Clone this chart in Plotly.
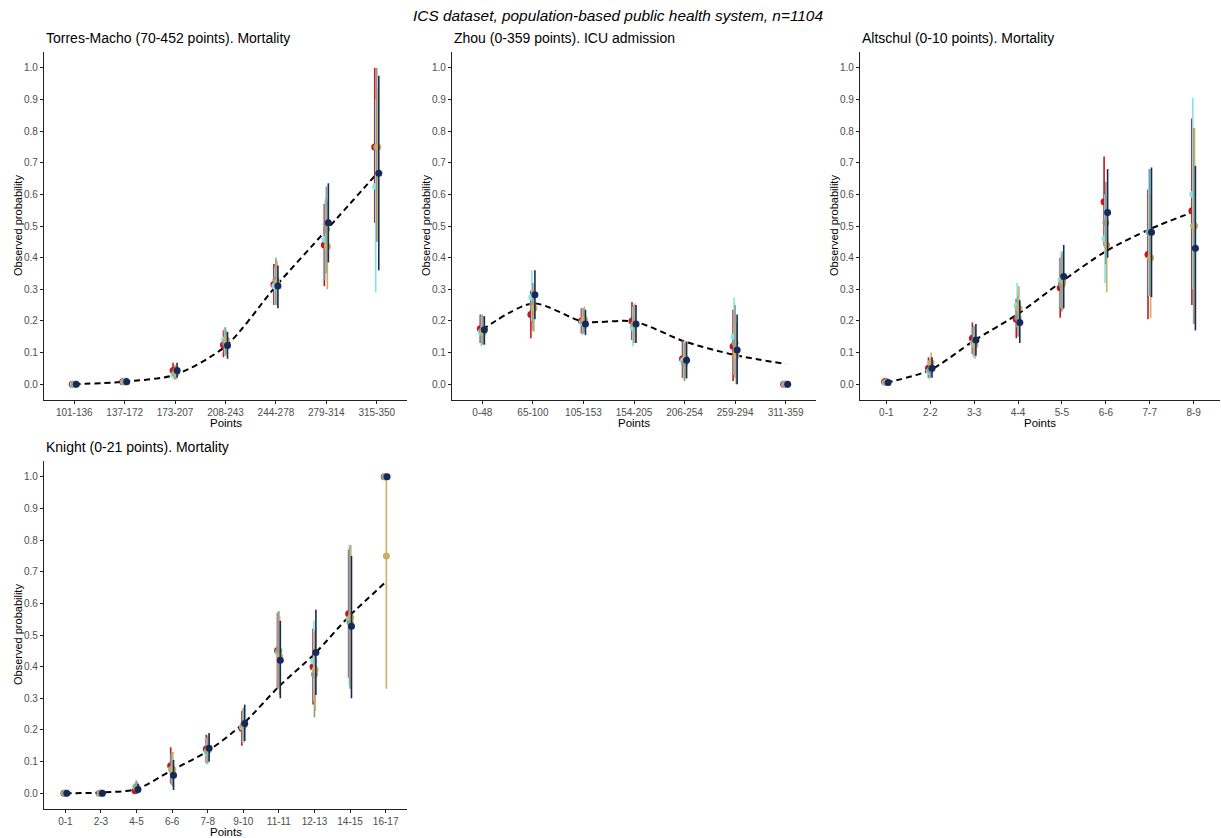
import plotly.graph_objects as go

W, H = 1221, 838

# ---------------- data ----------------
series_names = ["Series 1", "Series 2", "Series 3", "Series 4", "Series 5"]
series_colors = ["#C4171E", "#7FE3EE", "#889C92", "#C9AE63", "#142A5A"]

# Panel 1: Torres-Macho
cats1 = ["101-136", "137-172", "173-207", "208-243", "244-278", "279-314", "315-350"]
line1 = [0.0, 0.008, 0.03, 0.12, 0.31, 0.487, 0.665]
est1 = [
    [0.0, 0.008, 0.043, 0.125, 0.315, 0.44, 0.75],
    [0.0, 0.008, 0.03, 0.14, 0.31, 0.457, 0.625],
    [0.0, 0.008, 0.035, 0.13, 0.33, 0.49, 0.75],
    [0.0, 0.008, 0.035, 0.14, 0.32, 0.435, 0.75],
    [0.0, 0.008, 0.043, 0.122, 0.31, 0.51, 0.667],
]
lo1 = [
    [0, 0.0, 0.02, 0.085, 0.25, 0.31, 0.51],
    [0, 0.0, 0.015, 0.10, 0.25, 0.33, 0.29],
    [0, 0.0, 0.015, 0.09, 0.25, 0.35, 0.45],
    [0, 0.0, 0.015, 0.095, 0.25, 0.30, 0.45],
    [0, 0.0, 0.02, 0.08, 0.24, 0.385, 0.36],
]
hi1 = [
    [0, 0.02, 0.068, 0.17, 0.38, 0.57, 1.0],
    [0, 0.02, 0.05, 0.18, 0.37, 0.585, 0.90],
    [0, 0.02, 0.06, 0.18, 0.40, 0.625, 1.0],
    [0, 0.02, 0.06, 0.17, 0.39, 0.58, 0.935],
    [0, 0.02, 0.068, 0.165, 0.375, 0.635, 0.975],
]

# Panel 2: Zhou
cats2 = ["0-48", "65-100", "105-153", "154-205", "206-254", "259-294", "311-359"]
line2 = [0.172, 0.255, 0.198, 0.198, 0.135, 0.092, 0.064]
est2 = [
    [0.175, 0.22, 0.20, 0.20, 0.08, 0.12, 0.0],
    [0.165, 0.275, 0.195, 0.18, 0.075, 0.15, 0.0],
    [0.17, 0.25, 0.20, 0.19, 0.065, 0.13, 0.0],
    [0.165, 0.24, 0.205, 0.19, 0.08, 0.09, 0.0],
    [0.172, 0.283, 0.19, 0.19, 0.076, 0.108, 0.0],
]
lo2 = [
    [0.13, 0.145, 0.16, 0.14, 0.02, 0.01, 0],
    [0.12, 0.20, 0.155, 0.12, 0.015, 0.03, 0],
    [0.125, 0.17, 0.16, 0.13, 0.01, 0.02, 0],
    [0.125, 0.165, 0.165, 0.13, 0.02, 0.0, 0],
    [0.125, 0.205, 0.155, 0.13, 0.018, 0.0, 0],
]
hi2 = [
    [0.22, 0.295, 0.24, 0.26, 0.14, 0.235, 0],
    [0.215, 0.36, 0.24, 0.245, 0.135, 0.275, 0],
    [0.22, 0.32, 0.24, 0.25, 0.13, 0.25, 0],
    [0.215, 0.31, 0.245, 0.255, 0.135, 0.195, 0],
    [0.215, 0.36, 0.235, 0.25, 0.135, 0.22, 0],
]

# Panel 3: Altschul
cats3 = ["0-1", "2-2", "3-3", "4-4", "5-5", "6-6", "7-7", "8-9"]
line3 = [0.005, 0.045, 0.138, 0.222, 0.325, 0.42, 0.49, 0.545]
est3 = [
    [0.008, 0.05, 0.145, 0.205, 0.305, 0.577, 0.41, 0.548],
    [0.005, 0.04, 0.13, 0.248, 0.33, 0.46, 0.48, 0.60],
    [0.006, 0.045, 0.135, 0.21, 0.315, 0.51, 0.48, 0.50],
    [0.007, 0.068, 0.125, 0.24, 0.325, 0.44, 0.40, 0.50],
    [0.005, 0.05, 0.14, 0.195, 0.34, 0.543, 0.48, 0.43],
]
lo3 = [
    [0, 0.02, 0.095, 0.145, 0.21, 0.44, 0.205, 0.25],
    [0, 0.015, 0.085, 0.18, 0.24, 0.32, 0.28, 0.30],
    [0, 0.02, 0.09, 0.15, 0.23, 0.38, 0.28, 0.19],
    [0, 0.04, 0.08, 0.17, 0.235, 0.29, 0.21, 0.19],
    [0, 0.02, 0.09, 0.13, 0.24, 0.40, 0.275, 0.17],
]
hi3 = [
    [0.02, 0.085, 0.195, 0.27, 0.40, 0.72, 0.615, 0.84],
    [0.015, 0.075, 0.18, 0.32, 0.42, 0.60, 0.68, 0.905],
    [0.02, 0.08, 0.185, 0.28, 0.41, 0.64, 0.68, 0.81],
    [0.02, 0.10, 0.17, 0.31, 0.42, 0.59, 0.60, 0.81],
    [0.015, 0.085, 0.19, 0.265, 0.44, 0.68, 0.685, 0.69],
]

# Panel 4: Knight
cats4 = ["0-1", "2-3", "4-5", "6-6", "7-8", "9-10", "11-11", "12-13", "14-15", "16-17"]
line4 = [0.0, 0.002, 0.013, 0.073, 0.133, 0.22, 0.337, 0.44, 0.562, 0.667]
est4 = [
    [0, 0, 0.008, 0.087, 0.14, 0.205, 0.45, 0.40, 0.567, 1.0],
    [0, 0, 0.02, 0.075, 0.13, 0.21, 0.445, 0.418, 0.55, 1.0],
    [0, 0, 0.02, 0.075, 0.135, 0.215, 0.45, 0.376, 0.54, 1.0],
    [0, 0, 0.015, 0.075, 0.14, 0.215, 0.433, 0.39, 0.555, 0.75],
    [0, 0, 0.012, 0.057, 0.142, 0.22, 0.42, 0.445, 0.528, 1.0],
]
lo4 = [
    [0, 0, 0.0, 0.03, 0.095, 0.15, 0.33, 0.28, 0.365, 1.0],
    [0, 0, 0.003, 0.025, 0.09, 0.16, 0.33, 0.29, 0.34, 1.0],
    [0, 0, 0.003, 0.025, 0.095, 0.165, 0.33, 0.24, 0.33, 1.0],
    [0, 0, 0.0, 0.02, 0.095, 0.16, 0.31, 0.26, 0.34, 0.33],
    [0, 0, 0.0, 0.01, 0.10, 0.165, 0.30, 0.31, 0.30, 1.0],
]
hi4 = [
    [0, 0, 0.03, 0.145, 0.185, 0.26, 0.57, 0.52, 0.77, 1.0],
    [0, 0, 0.04, 0.125, 0.175, 0.265, 0.575, 0.545, 0.785, 1.0],
    [0, 0, 0.04, 0.13, 0.18, 0.27, 0.575, 0.51, 0.78, 1.0],
    [0, 0, 0.035, 0.13, 0.185, 0.27, 0.56, 0.52, 0.785, 1.0],
    [0, 0, 0.03, 0.105, 0.19, 0.28, 0.545, 0.58, 0.75, 1.0],
]

titles = [
    "Torres-Macho (70-452 points). Mortality",
    "Zhou (0-359 points). ICU admission",
    "Altschul (0-10 points). Mortality",
    "Knight (0-21 points). Mortality",
]
main_title = "ICS dataset, population-based public health system, n=1104"
y_ticks = [0.0, 0.1, 0.2, 0.3, 0.4, 0.5, 0.6, 0.7, 0.8, 0.9, 1.0]

panels = [
    (cats1, line1, est1, lo1, hi1),
    (cats2, line2, est2, lo2, hi2),
    (cats3, line3, est3, lo3, hi3),
    (cats4, line4, est4, lo4, hi4),
]

# panel pixel boxes: (left, right, top, bottom)
boxes = [(44, 407, 52, 400), (452, 816, 52, 400), (860, 1220, 52, 400), (44, 407, 461, 809)]
dodge = [-0.04, -0.02, 0.0, 0.02, 0.04]

FONT = "Liberation Sans, Arial, sans-serif"
fig = go.Figure()
layout = dict(
    width=W, height=H, margin=dict(l=0, r=0, t=0, b=0),
    paper_bgcolor="white", plot_bgcolor="white", showlegend=False,
    font=dict(family=FONT, color="black"),
)
annotations = []

for p, ((cats, line, est, lo, hi), (l, r, t, b)) in enumerate(zip(panels, boxes)):
    ax = "" if p == 0 else str(p + 1)
    xa, ya = "x" + ax, "y" + ax
    xs = list(range(1, len(cats) + 1))
    fig.add_trace(go.Scatter(
        x=xs, y=line, mode="lines", xaxis=xa, yaxis=ya,
        line=dict(color="black", width=2, dash="6px,4px", shape="spline", smoothing=0.8),
        hoverinfo="skip",
    ))
    for s in range(5):
        xv = [x + dodge[s] for x in xs]
        fig.add_trace(go.Scatter(
            x=xv, y=est[s], mode="markers", xaxis=xa, yaxis=ya, name=series_names[s],
            marker=dict(color=series_colors[s], size=7),
            error_y=dict(type="data", symmetric=False,
                         array=[h - e for h, e in zip(hi[s], est[s])],
                         arrayminus=[e - q for e, q in zip(est[s], lo[s])],
                         color=series_colors[s], thickness=1.6, width=0),
        ))
    layout["xaxis" + ax] = dict(
        domain=[l / W, r / W], anchor=ya, range=[0.4, len(cats) + 0.6],
        tickmode="array", tickvals=xs, ticktext=cats,
        showline=True, linecolor="#222222", linewidth=1.2, ticks="outside", ticklen=3,
        tickcolor="#222222", showgrid=False, zeroline=False,
        tickfont=dict(size=10, color="#4D4D4D", family=FONT),
    )
    layout["yaxis" + ax] = dict(
        domain=[1 - b / H, 1 - t / H], anchor=xa, range=[-0.05, 1.05],
        tickmode="array", tickvals=y_ticks, ticktext=[f"{v:.1f}" for v in y_ticks],
        showline=True, linecolor="#222222", linewidth=1.2, ticks="outside", ticklen=3,
        tickcolor="#222222", showgrid=False, zeroline=False,
        tickfont=dict(size=10, color="#4D4D4D", family=FONT),
    )
    annotations.append(dict(text=titles[p], x=l / W, y=1 - 38 / H if p < 3 else 1 - 447 / H,
                            xref="paper", yref="paper", xanchor="left", yanchor="middle",
                            showarrow=False, font=dict(size=14, color="black", family=FONT)))
    annotations.append(dict(text="Points", x=(l + r) / 2 / W, y=1 - (b + 23) / H,
                            xref="paper", yref="paper", xanchor="center", yanchor="middle",
                            showarrow=False, font=dict(size=11.5, color="black", family=FONT)))
    annotations.append(dict(text="Observed probability", x=(l - 26) / W, y=1 - (t + b) / 2 / H,
                            xref="paper", yref="paper", xanchor="center", yanchor="middle",
                            textangle=-90, showarrow=False,
                            font=dict(size=11, color="black", family=FONT)))

annotations.append(dict(text="<i>" + main_title + "</i>", x=618 / W, y=1 - 16 / H,
                        xref="paper", yref="paper", xanchor="center", yanchor="middle",
                        showarrow=False, font=dict(size=15.4, color="black", family=FONT)))
layout["annotations"] = annotations
fig.update_layout(**layout)
fig.write_html("out.html", config={"displayModeBar": False},
               post_script="document.body.style.margin='0px';document.body.style.overflow='hidden';")
